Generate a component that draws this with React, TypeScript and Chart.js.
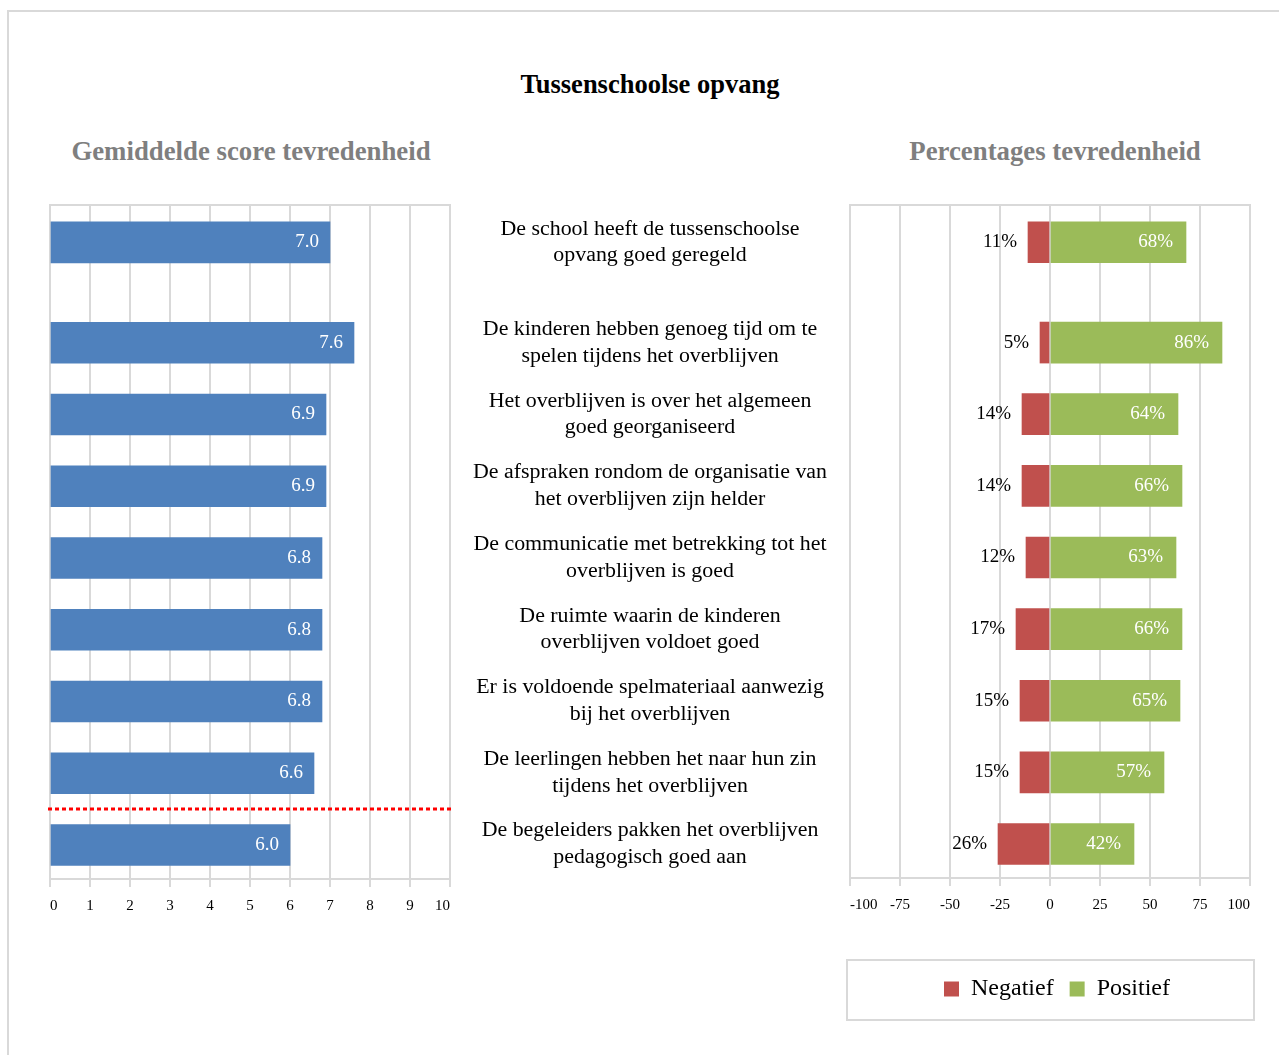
import React, { useEffect, useRef } from "react";
import { Chart, registerables } from "chart.js";

Chart.register(...registerables);

const FONT = '"Liberation Serif", "Times New Roman", Times, serif';

// ---------- data ----------
const mainTitle = "Tussenschoolse opvang";
const leftTitle = "Gemiddelde score tevredenheid";
const rightTitle = "Percentages tevredenheid";

const statements: string[][] = [
  ["De school heeft de tussenschoolse", "opvang goed geregeld"],
  ["De kinderen hebben genoeg tijd om te", "spelen tijdens het overblijven"],
  ["Het overblijven is over het algemeen", "goed georganiseerd"],
  ["De afspraken rondom de organisatie van", "het overblijven zijn helder"],
  ["De communicatie met betrekking tot het", "overblijven is goed"],
  ["De ruimte waarin de kinderen", "overblijven voldoet goed"],
  ["Er is voldoende spelmateriaal aanwezig", "bij het overblijven"],
  ["De leerlingen hebben het naar hun zin", "tijdens het overblijven"],
  ["De begeleiders pakken het overblijven", "pedagogisch goed aan"],
];

const scores = [7.0, 7.6, 6.9, 6.9, 6.8, 6.8, 6.8, 6.6, 6.0];
const negativePct = [11, 5, 14, 14, 12, 17, 15, 15, 26];
const positivePct = [68, 86, 64, 66, 63, 66, 65, 57, 42];

const scoreTicks = [0, 1, 2, 3, 4, 5, 6, 7, 8, 9, 10];
const pctTicks = [-100, -75, -50, -25, 0, 25, 50, 75, 100];

const seriesNames = ["Negatief", "Positief"];
const thresholdAfterRow = 7; // dotted line between row 7 and row 8

// ---------- layout helpers ----------
const rowPos = (i: number) => (i === 0 ? 0 : i + 0.4);
const Y_MIN = -0.52;
const Y_MAX = 8.874;

const BLUE = "#4F81BD";
const RED = "#C0504D";
const GREEN = "#9BBB59";
const GRID = "#d9d9d9";

const framePlugin = {
  id: "frame",
  beforeDatasetsDraw(chart: any) {
    const { ctx, chartArea } = chart;
    const { left, top, right, bottom } = chartArea;
    ctx.save();
    ctx.strokeStyle = GRID;
    ctx.lineWidth = 2;
    ctx.beginPath();
    ctx.moveTo(left, bottom);
    ctx.lineTo(left, top);
    ctx.lineTo(right, top);
    ctx.lineTo(right, bottom);
    ctx.stroke();
    ctx.restore();
  },
};

const scoreLabelPlugin = {
  id: "scoreLabels",
  afterDatasetsDraw(chart: any) {
    const { ctx } = chart;
    const meta = chart.getDatasetMeta(0);
    ctx.save();
    ctx.font = `19px ${FONT}`;
    ctx.fillStyle = "#ffffff";
    ctx.textAlign = "right";
    ctx.textBaseline = "middle";
    meta.data.forEach((el: any, i: number) => {
      ctx.fillText(scores[i].toFixed(1), el.x - 11, el.y);
    });
    ctx.restore();
  },
};

const thresholdPlugin = {
  id: "threshold",
  afterDatasetsDraw(chart: any) {
    const { ctx, chartArea } = chart;
    const ys = chart.scales.y;
    const y =
      (ys.getPixelForValue(rowPos(thresholdAfterRow)) +
        ys.getPixelForValue(rowPos(thresholdAfterRow + 1))) /
      2;
    ctx.save();
    ctx.strokeStyle = "#FF0000";
    ctx.lineWidth = 3;
    ctx.setLineDash([4, 3]);
    ctx.beginPath();
    ctx.moveTo(chartArea.left - 2, y);
    ctx.lineTo(chartArea.right + 2, y);
    ctx.stroke();
    ctx.restore();
  },
};

const pctLabelPlugin = {
  id: "pctLabels",
  afterDatasetsDraw(chart: any) {
    const { ctx } = chart;
    ctx.save();
    ctx.font = `19px ${FONT}`;
    ctx.textAlign = "right";
    ctx.textBaseline = "middle";
    const negMeta = chart.getDatasetMeta(0);
    ctx.fillStyle = "#000000";
    negMeta.data.forEach((el: any, i: number) => {
      ctx.fillText(`${negativePct[i]}%`, el.x - 11, el.y);
    });
    const posMeta = chart.getDatasetMeta(1);
    ctx.fillStyle = "#ffffff";
    posMeta.data.forEach((el: any, i: number) => {
      ctx.fillText(`${positivePct[i]}%`, el.x - 13, el.y);
    });
    ctx.restore();
  },
};

const legendShiftPlugin = {
  id: "legendShift",
  afterLayout(chart: any) {
    const lg = chart.legend;
    if (lg) {
      lg.left += 7;
      lg.right += 7;
      lg.top += 1;
      lg.bottom += 1;
    }
  },
};

function LeftChart() {
  const ref = useRef<HTMLCanvasElement | null>(null);
  useEffect(() => {
    if (!ref.current) return;
    const chart = new Chart(ref.current, {
      type: "bar",
      data: {
        datasets: [
          {
            data: scores.map((v, i) => ({ x: v, y: rowPos(i) })),
            backgroundColor: BLUE,
            borderWidth: 0,
            barThickness: 41,
          } as any,
        ],
      },
      options: {
        indexAxis: "y",
        animation: false,
        responsive: false,
        maintainAspectRatio: false,
        layout: { padding: { top: 10, left: 10, right: 10, bottom: 0 } },
        plugins: { legend: { display: false }, tooltip: { enabled: false } },
        scales: {
          x: {
            type: "linear",
            position: "bottom",
            min: 0,
            max: 10,
            afterBuildTicks: (s: any) => {
              s.ticks = scoreTicks.map((v) => ({ value: v }));
            },
            afterFit: (s: any) => {
              s.height = 40;
            },
            ticks: {
              autoSkip: false,
              maxRotation: 0,
              align: "inner",
              padding: 10,
              color: "#000",
              font: { family: FONT, size: 15 },
              callback: (v: any) => String(v),
            },
            grid: { color: GRID, lineWidth: 2, tickLength: 8, drawTicks: true },
            border: { display: true, color: GRID, width: 2 },
          } as any,
          y: {
            type: "linear",
            reverse: true,
            offset: false,
            min: Y_MIN,
            max: Y_MAX,
            display: false,
          },
        },
      } as any,
      plugins: [framePlugin, scoreLabelPlugin, thresholdPlugin],
    });
    return () => chart.destroy();
  }, []);
  return (
    <canvas
      ref={ref}
      width={420}
      height={724}
      style={{ position: "absolute", left: 40, top: 195, width: 420, height: 724 }}
    />
  );
}

function RightChart() {
  const ref = useRef<HTMLCanvasElement | null>(null);
  useEffect(() => {
    if (!ref.current) return;
    const chart = new Chart(ref.current, {
      type: "bar",
      data: {
        datasets: [
          {
            label: seriesNames[0],
            data: negativePct.map((v, i) => ({ x: -v, y: rowPos(i) })),
            backgroundColor: RED,
            borderWidth: 0,
            barThickness: 41,
            grouped: false,
          } as any,
          {
            label: seriesNames[1],
            data: positivePct.map((v, i) => ({ x: v, y: rowPos(i) })),
            backgroundColor: GREEN,
            borderWidth: 0,
            barThickness: 41,
            grouped: false,
          } as any,
        ],
      },
      options: {
        indexAxis: "y",
        animation: false,
        responsive: false,
        maintainAspectRatio: false,
        layout: { padding: { top: 10, left: 0, right: 12, bottom: 0 } },
        plugins: {
          tooltip: { enabled: false },
          legend: {
            display: true,
            position: "bottom",
            fullSize: false,
            labels: {
              boxWidth: 15,
              boxHeight: 15,
              padding: 16,
              color: "#000",
              font: { family: FONT, size: 24 },
            },
          },
        },
        scales: {
          x: {
            type: "linear",
            position: "bottom",
            min: -100,
            max: 100,
            afterBuildTicks: (s: any) => {
              s.ticks = pctTicks.map((v) => ({ value: v }));
            },
            afterFit: (s: any) => {
              s.height = 82;
            },
            ticks: {
              autoSkip: false,
              maxRotation: 0,
              align: "inner",
              padding: 10,
              color: "#000",
              font: { family: FONT, size: 15 },
              callback: (v: any) => String(v),
            },
            grid: { color: GRID, lineWidth: 2, tickLength: 8, drawTicks: true },
            border: { display: true, color: GRID, width: 2 },
          } as any,
          y: {
            type: "linear",
            position: "left",
            reverse: true,
            offset: false,
            min: Y_MIN,
            max: Y_MAX,
            afterBuildTicks: (s: any) => {
              s.ticks = statements.map((_, i) => ({ value: rowPos(i) }));
            },
            afterFit: (s: any) => {
              s.width = 390;
              s.paddingTop = 0;
              s.paddingBottom = 0;
            },
            grid: { display: false, drawTicks: false },
            border: { display: false },
            ticks: {
              autoSkip: false,
              crossAlign: "center",
              padding: 23,
              color: "#000",
              font: { family: FONT, size: 21.9, lineHeight: 1.22 },
              callback: (_v: any, i: number) => statements[i],
            },
          } as any,
        },
      } as any,
      plugins: [framePlugin, pctLabelPlugin, legendShiftPlugin],
    });
    return () => chart.destroy();
  }, []);
  return (
    <canvas
      ref={ref}
      width={802}
      height={815}
      style={{ position: "absolute", left: 460, top: 195, width: 802, height: 815 }}
    />
  );
}

export default function App() {
  const textBase: React.CSSProperties = {
    position: "absolute",
    textAlign: "center",
    fontFamily: FONT,
    fontWeight: "bold",
    whiteSpace: "nowrap",
    lineHeight: "30px",
  };
  return (
    <div
      style={{
        position: "fixed",
        left: 0,
        top: 0,
        width: 1279,
        height: 1055,
        overflow: "hidden",
        background: "#ffffff",
        fontFamily: FONT,
      }}
    >
      <div
        style={{
          position: "absolute",
          left: 7,
          top: 10,
          width: 1400,
          height: 1200,
          borderLeft: `2px solid ${GRID}`,
          borderTop: `2px solid ${GRID}`,
        }}
      />
      <div style={{ ...textBase, left: 350, width: 600, top: 68.5, fontSize: 26.5, color: "#000" }}>
        {mainTitle}
      </div>
      <div style={{ ...textBase, left: 1, width: 500, top: 136, fontSize: 26.8, color: "#7f7f7f" }}>
        {leftTitle}
      </div>
      <div style={{ ...textBase, left: 805, width: 500, top: 136, fontSize: 26.8, color: "#7f7f7f" }}>
        {rightTitle}
      </div>
      <div
        style={{
          position: "absolute",
          left: 846,
          top: 959,
          width: 409,
          height: 62,
          boxSizing: "border-box",
          border: `2px solid ${GRID}`,
        }}
      />
      <LeftChart />
      <RightChart />
    </div>
  );
}
